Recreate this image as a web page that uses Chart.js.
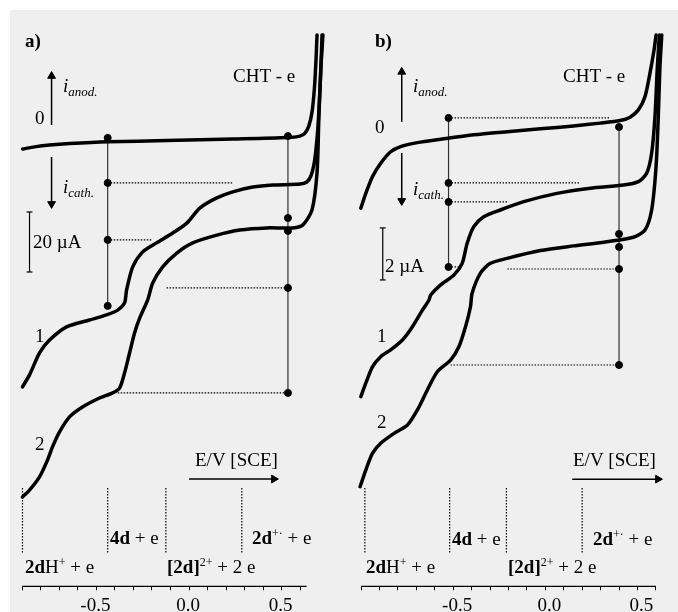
<!DOCTYPE html>
<html lang="en">
<head>
<meta charset="UTF-8">
<title>CHT - e : voltammograms a) and b)</title>
<script src="https://cdn.jsdelivr.net/npm/chart.js"></script>
<style>
  html, body { margin: 0; padding: 0; background: #fff; }
  #frame { position: absolute; left: 10px; top: 10px; width: 668px; height: 602px; background: #efefef; }
  .panel { position: absolute; top: 0; height: 612px; }
  #panelA { left: 0; width: 340px; }
  #panelB { left: 340px; width: 338px; }
</style>
</head>
<body>
<div id="frame"></div>
<div class="panel" id="panelA"><canvas id="chartA" width="340" height="612"></canvas></div>
<div class="panel" id="panelB"><canvas id="chartB" width="338" height="612"></canvas></div>
<script>
// tick labels on the potential axis (V vs SCE)
const tickLabels = [-0.5, 0.0, 0.5];

// ---- panel a) : potential E (V) and current i (uA), curves 0, 1, 2
const aE0 = [-0.898, -0.834, -0.753, -0.645, -0.439, -0.120, 0.237, 0.529, 0.599, 0.626, 0.647, 0.664, 0.677, 0.685, 0.691];
const aI0 = [-3.0, -2.3, -1.7, -1.2, -0.6, -0.2, 0.3, 0.8, 1.3, 2.3, 4.7, 9.3, 17.3, 26.0, 35.0];
const aE1 = [-0.899, -0.861, -0.807, -0.753, -0.661, -0.537, -0.445, -0.385, -0.348, -0.337, -0.304, -0.250, -0.175, -0.088, -0.012, 0.058, 0.150, 0.236, 0.344, 0.452, 0.599, 0.636, 0.658, 0.674, 0.685, 0.696, 0.704, 0.712, 0.718];
const aI1 = [-82.3, -78.3, -71.0, -66.7, -62.3, -60.0, -58.3, -56.7, -54.3, -50.0, -42.3, -37.3, -34.3, -31.0, -27.7, -22.7, -19.3, -17.3, -15.7, -15.0, -14.7, -14.0, -12.0, -8.3, -3.3, 4.3, 13.3, 24.3, 35.0];
const aE2 = [-0.899, -0.861, -0.807, -0.764, -0.737, -0.699, -0.645, -0.575, -0.483, -0.412, -0.375, -0.348, -0.321, -0.294, -0.266, -0.223, -0.196, -0.142, -0.066, 0.020, 0.150, 0.274, 0.420, 0.561, 0.615, 0.664, 0.691, 0.701, 0.712, 0.723];
const aI2 = [-119.0, -116.7, -112.3, -106.7, -102.3, -97.3, -92.3, -89.0, -86.0, -84.3, -82.7, -77.7, -71.0, -64.3, -59.3, -53.3, -47.7, -42.3, -37.7, -34.3, -31.7, -30.0, -29.3, -29.3, -28.3, -23.3, -11.0, 7.7, 24.3, 35.0];

// drop lines with marked levels, dotted guides, region bounds
const aDropE = [-0.439, 0.534];
const aDropLeftI = [0.7, -14.3, -33.3, -55.3];
const aDropRightI = [1.3, -26.0, -30.3, -49.3, -84.3];
const aGuideFrom = [-0.439, -0.439, -0.121, -0.385];
const aGuideTo = [0.236, -0.196, 0.534, 0.534];
const aGuideI = [-14.3, -33.3, -49.3, -84.3];
const aBoundE = [-0.899, -0.439, -0.125, 0.285];
const aBoundI = [-116.0, -137.7];
const aScaleBar = [-0.861, -24.0, -44.0]; // E, top, bottom (20 uA)
const aAxisEnd = 0.635;

// ---- panel b)
const bE0 = [-1.001, -0.974, -0.938, -0.893, -0.839, -0.785, -0.694, -0.568, -0.388, -0.207, -0.027, 0.153, 0.298, 0.406, 0.460, 0.505, 0.541, 0.568, 0.590, 0.601];
const bI0 = [-2.70, -2.13, -1.49, -0.97, -0.53, -0.33, -0.18, -0.05, 0.12, 0.24, 0.35, 0.46, 0.57, 0.67, 0.80, 1.08, 1.59, 2.49, 3.38, 3.96];
const bE1 = [-1.001, -0.974, -0.938, -0.893, -0.839, -0.775, -0.721, -0.667, -0.631, -0.622, -0.568, -0.496, -0.451, -0.424, -0.388, -0.334, -0.244, -0.117, 0.063, 0.244, 0.424, 0.505, 0.550, 0.577, 0.595, 0.608, 0.619];
const bI1 = [-9.95, -9.43, -8.80, -8.41, -8.15, -7.77, -7.26, -6.62, -6.23, -6.04, -5.65, -5.27, -4.82, -4.05, -3.41, -3.03, -2.77, -2.45, -2.13, -1.93, -1.81, -1.68, -1.36, -0.59, 0.82, 2.74, 3.96];
const bE2 = [-1.005, -0.974, -0.938, -0.893, -0.821, -0.748, -0.694, -0.640, -0.586, -0.514, -0.469, -0.433, -0.406, -0.397, -0.352, -0.298, -0.207, -0.027, 0.153, 0.334, 0.478, 0.541, 0.577, 0.601, 0.613, 0.622, 0.632];
const bI2 = [-13.41, -12.77, -12.13, -11.74, -11.36, -11.04, -10.46, -9.69, -8.99, -8.54, -8.03, -7.26, -6.49, -5.97, -5.20, -4.82, -4.63, -4.33, -4.15, -3.99, -3.82, -3.54, -2.77, -1.10, 0.82, 2.74, 3.96];

const bDropE = [-0.525, 0.400];
const bDropLeftI = [0.77, -1.73, -2.46, -4.96];
const bDropRightI = [0.42, -3.69, -4.19, -5.04, -8.73];
const bGuideFrom = [-0.525, -0.525, -0.525, -0.525, -0.206, -0.514];
const bGuideTo = [0.352, 0.189, -0.206, -0.455, 0.400, 0.400];
const bGuideI = [0.77, -1.73, -2.46, -4.96, -5.04, -8.73];
const bBoundE = [-0.979, -0.519, -0.211, 0.200];
const bBoundI = [-13.46, -15.96];
const bScaleBar = [-0.882, -3.46, -5.46]; // E, top, bottom (2 uA)
const bAxisEnd = 0.6;

// text, canvas pixels (x, baseline), parts: [text, style]
const aTexts = [
  { x: 25, y: 47, parts: [['a)', 'b']] },
  { x: 233, y: 82, parts: [['CHT - e', '']] },
  { x: 63, y: 92, parts: [['i', 'i'], ['anod.', 'sub']] },
  { x: 63, y: 193, parts: [['i', 'i'], ['cath.', 'sub']] },
  { x: 35, y: 124, parts: [['0', '']] },
  { x: 33, y: 248, parts: [['20 \u00b5A', '']] },
  { x: 35, y: 342, parts: [['1', '']] },
  { x: 35, y: 450, parts: [['2', '']] },
  { x: 195, y: 466, parts: [['E/V [SCE]', '']] },
  { x: 110, y: 544, parts: [['4d', 'b'], [' + e', '']] },
  { x: 252, y: 544, parts: [['2d', 'b'], ['+\u00b7', 'sup'], [' + e', '']] },
  { x: 25, y: 573, parts: [['2d', 'b'], ['H', ''], ['+', 'sup'], [' + e', '']] },
  { x: 167, y: 573, parts: [['[2d]', 'b'], ['2+', 'sup'], [' + 2 e', '']] }
];
const bTexts = [
  { x: 35, y: 47, parts: [['b)', 'b']] },
  { x: 223, y: 82, parts: [['CHT - e', '']] },
  { x: 73, y: 92, parts: [['i', 'i'], ['anod.', 'sub']] },
  { x: 73, y: 195, parts: [['i', 'i'], ['cath.', 'sub']] },
  { x: 35, y: 133, parts: [['0', '']] },
  { x: 45, y: 272, parts: [['2 \u00b5A', '']] },
  { x: 37, y: 342, parts: [['1', '']] },
  { x: 37, y: 428, parts: [['2', '']] },
  { x: 233, y: 466, parts: [['E/V [SCE]', '']] },
  { x: 112, y: 545, parts: [['4d', 'b'], [' + e', '']] },
  { x: 253, y: 545, parts: [['2d', 'b'], ['+\u00b7', 'sup'], [' + e', '']] },
  { x: 26, y: 573, parts: [['2d', 'b'], ['H', ''], ['+', 'sup'], [' + e', '']] },
  { x: 168, y: 573, parts: [['[2d]', 'b'], ['2+', 'sup'], [' + 2 e', '']] }
];

const SERIF = '"Liberation Serif", "Times New Roman", serif';

function pts(es, is) { return es.map((e, k) => ({ x: e, y: is[k] })); }

function curve(es, is) {
  return { data: pts(es, is), showLine: true, borderColor: '#000', borderWidth: 3.5,
    pointRadius: 0, tension: 0.25, clip: false, borderCapStyle: 'round', borderJoinStyle: 'round' };
}
function rule(e0, i0, e1, i1, dash, width, color) {
  return { data: [{ x: e0, y: i0 }, { x: e1, y: i1 }], showLine: true, borderColor: color || '#000',
    borderWidth: width || 1, borderDash: dash || [], pointRadius: 0, clip: false };
}
function dots(e, is) {
  return { data: is.map(i => ({ x: e, y: i })), showLine: false, pointRadius: 3.5,
    pointBackgroundColor: '#000', pointBorderColor: '#000', clip: false };
}
function arrow(e0, i0, e1, i1, rot) {
  return { data: [{ x: e0, y: i0 }, { x: e1, y: i1 }], showLine: true, borderColor: '#000', borderWidth: 1.5,
    pointRadius: [0, 4.5], pointStyle: 'triangle', pointRotation: rot, pointBackgroundColor: '#000',
    pointBorderColor: '#000', pointBorderWidth: 1, clip: false };
}

function textPlugin(items) {
  return {
    id: 'panelText',
    afterDatasetsDraw(chart) {
      const ctx = chart.ctx;
      ctx.save();
      ctx.fillStyle = '#000';
      ctx.textAlign = 'left';
      ctx.textBaseline = 'alphabetic';
      items.forEach(item => {
        let x = item.x;
        item.parts.forEach(([t, s]) => {
          let size = 19, dy = 0, st = '';
          if (s === 'b') st = 'bold ';
          if (s === 'i') st = 'italic ';
          if (s === 'sub') { st = 'italic '; size = 13; dy = 4; }
          if (s === 'sup') { size = 12; dy = -7; }
          ctx.font = st + size + 'px ' + SERIF;
          ctx.fillText(t, x, item.y + dy);
          x += ctx.measureText(t).width;
        });
      });
      ctx.restore();
    }
  };
}

function panelDatasets(p) {
  const ds = [];
  ds.push(dots(p.dropE[0], p.dropLeft));
  ds.push(dots(p.dropE[1], p.dropRight));
  p.curves.forEach(c => ds.push(curve(c[0], c[1])));
  ds.push(rule(p.dropE[0], p.dropLeft[0], p.dropE[0], p.dropLeft[p.dropLeft.length - 1], [], 1.2, '#333'));
  ds.push(rule(p.dropE[1], p.dropRight[0], p.dropE[1], p.dropRight[p.dropRight.length - 1], [], 1.2, '#333'));
  p.guideI.forEach((i, k) => ds.push(rule(p.guideFrom[k], i, p.guideTo[k], i, [1.5, 1.5], 1.2)));
  p.boundE.forEach(e => ds.push(rule(e, p.boundI[0], e, p.boundI[1], [1.5, 1.5], 1.2)));
  const [se, st, sb] = p.scaleBar;
  ds.push(rule(se, st, se, sb, [], 1.2));
  ds.push(rule(se - 0.016, st, se + 0.016, st, [], 1.2));
  ds.push(rule(se - 0.016, sb, se + 0.016, sb, [], 1.2));
  p.arrows.forEach(a => ds.push(arrow(a[0], a[1], a[2], a[3], a[4])));
  // potential axis line, from the left edge to the axis end
  ds.push(rule(p.xMin, p.yMin, p.axisEnd, p.yMin, [], 1.2));
  return ds;
}

function makeChart(id, p) {
  return new Chart(document.getElementById(id), {
    type: 'scatter',
    data: { datasets: panelDatasets(p) },
    options: {
      responsive: false,
      animation: false,
      events: [],
      layout: { padding: p.padding },
      plugins: { legend: { display: false }, tooltip: { enabled: false } },
      scales: {
        x: {
          type: 'linear', min: p.xMin, max: p.xMax,
          afterFit: s => { s.height = 25.7; },
          ticks: {
            stepSize: 0.1, includeBounds: false, autoSkip: false, maxRotation: 0, minRotation: 0,
            color: '#000', padding: 4, labelOffset: p.labelOffset, font: { family: SERIF, size: 19 },
            callback: v => {
              const hit = tickLabels.find(t => Math.abs(t - v) < 1e-6);
              return hit === undefined ? '' : (Math.abs(hit) < 1e-9 ? 0 : hit).toFixed(1);
            }
          },
          grid: {
            drawOnChartArea: false, tickLength: 4, lineWidth: 1,
            tickColor: c => (c.tick && c.tick.value > p.axisEnd + 1e-6 ? 'rgba(0,0,0,0)' : '#000')
          },
          border: { display: false }
        },
        y: { display: false, min: p.yMin, max: p.yMax }
      }
    },
    plugins: [textPlugin(p.texts)]
  });
}

makeChart('chartA', {
  xMin: -0.9, xMax: 0.74, axisEnd: aAxisEnd, yMin: -148.77, yMax: 43.33, labelOffset: -1,
  padding: { left: 22.3, right: 13.9, top: 10, bottom: 0 },
  curves: [[aE0, aI0], [aE1, aI1], [aE2, aI2]],
  dropE: aDropE, dropLeft: aDropLeftI, dropRight: aDropRightI,
  guideFrom: aGuideFrom, guideTo: aGuideTo, guideI: aGuideI,
  boundE: aBoundE, boundI: aBoundI, scaleBar: aScaleBar,
  arrows: [[-0.742, 5.0, -0.742, 21.3, 0], [-0.742, -5.7, -0.742, -21.3, 180], [0.0, -113.0, 0.458, -113.0, 90]],
  texts: aTexts
});

makeChart('chartB', {
  xMin: -1.0, xMax: 0.65, axisEnd: bAxisEnd, yMin: -17.24, yMax: 4.92, labelOffset: 4,
  padding: { left: 21, right: 12.9, top: 10, bottom: 0 },
  curves: [[bE0, bI0], [bE1, bI1], [bE2, bI2]],
  dropE: bDropE, dropLeft: bDropLeftI, dropRight: bDropRightI,
  guideFrom: bGuideFrom, guideTo: bGuideTo, guideI: bGuideI,
  boundE: bBoundE, boundI: bBoundI, scaleBar: bScaleBar,
  arrows: [[-0.779, 0.62, -0.779, 2.54, 0], [-0.779, -0.58, -0.779, -2.42, 180], [0.146, -13.12, 0.611, -13.12, 90]],
  texts: bTexts
});
</script>
</body>
</html>
